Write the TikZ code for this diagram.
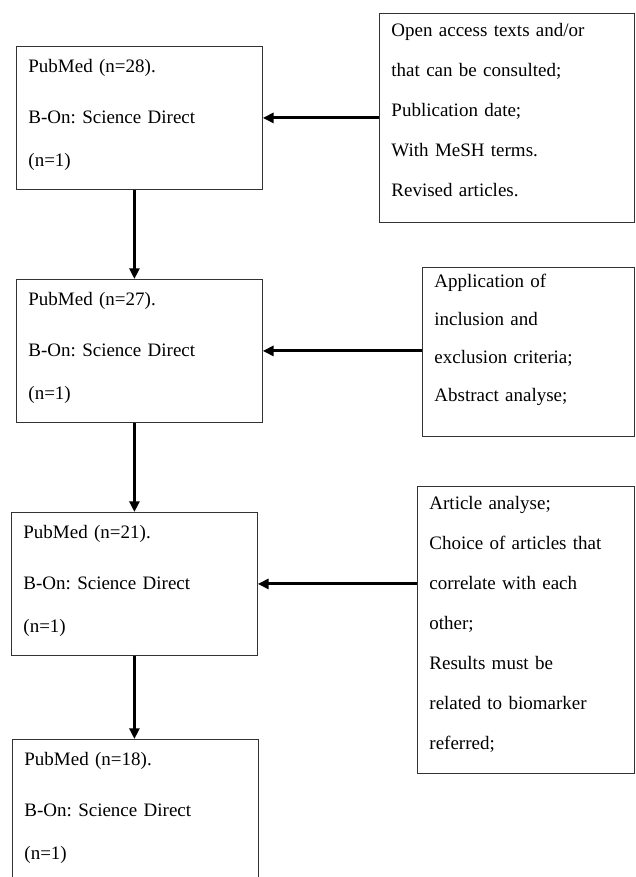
\documentclass[tikz,border=0pt]{standalone}
\usepackage{fontspec}
\setmainfont{Liberation Serif}
\frenchspacing
\usetikzlibrary{arrows.meta}
\begin{document}
\begin{tikzpicture}[x=0.7pt,y=-0.7pt,
    arrowline/.style={line width=2.1pt,-{Triangle[length=7.5pt,width=7pt]}}]

      \useasboundingbox (0,0) rectangle (635,877);
      \clip (0,0) rectangle (635,877);

      % search results
      \begin{scope}[every node/.style={draw=black!80,line width=0.6pt,anchor=north west,
          align=left,inner xsep=8.4pt,inner ysep=0pt,minimum width=172.2pt,text width=155.4pt,
          text height=18.2pt,text depth=81.9pt,font=\fontsize{13.3}{30}\selectfont}]
        \node (p1) at (16,46)  {PubMed (n=28).\\[5.7pt] B-On: Science Direct\\ (n=1)};
        \node (p2) at (16,279) {PubMed (n=27).\\[5.7pt] B-On: Science Direct\\ (n=1)};
        \node (p3) at (11,512) {PubMed (n=21).\\[5.7pt] B-On: Science Direct\\ (n=1)};
        \node (p4) at (12,739) {PubMed (n=18).\\[5.7pt] B-On: Science Direct\\ (n=1)};
      \end{scope}

      % filters
      \begin{scope}[every node/.style={draw=black!80,line width=0.6pt,anchor=north west,
          align=left,inner xsep=8.4pt,inner ysep=0pt,font=\fontsize{13.3}{28}\selectfont}]
        \node[minimum width=178.5pt,text width=161.7pt,text height=16.1pt,text depth=130.2pt]
          (c1) at (379,13) {Open access texts and/or\\ that can be consulted;\\ Publication date;\\
          With MeSH terms.\\ Revised articles.};
        \node[minimum width=148.4pt,text width=131.6pt,text height=14pt,text depth=104.3pt,
          font=\fontsize{13.3}{26.5}\selectfont]
          (c2) at (422,267) {Application of\\ inclusion and\\ exclusion criteria;\\ Abstract analyse;};
        \node[minimum width=151.9pt,text width=135.1pt,text height=16.1pt,text depth=184.8pt]
          (c3) at (417,486) {Article analyse;\\ Choice of articles that\\ correlate with each\\
          other;\\ Results must be\\ related to biomarker\\ referred;};
      \end{scope}

      \draw[arrowline] (c1.west |- p1.east) -- (p1.east);
      \draw[arrowline] (c2.west |- p2.east) -- (p2.east);
      \draw[arrowline] (c3.west |- p3.east) -- (p3.east);

      \draw[arrowline] (p1.south -| p3.north) -- (p2.north -| p3.north);
      \draw[arrowline] (p2.south -| p3.north) -- (p3.north);
      \draw[arrowline] (p3.south) -- (p4.north -| p3.south);

    \end{tikzpicture}
\end{document}
